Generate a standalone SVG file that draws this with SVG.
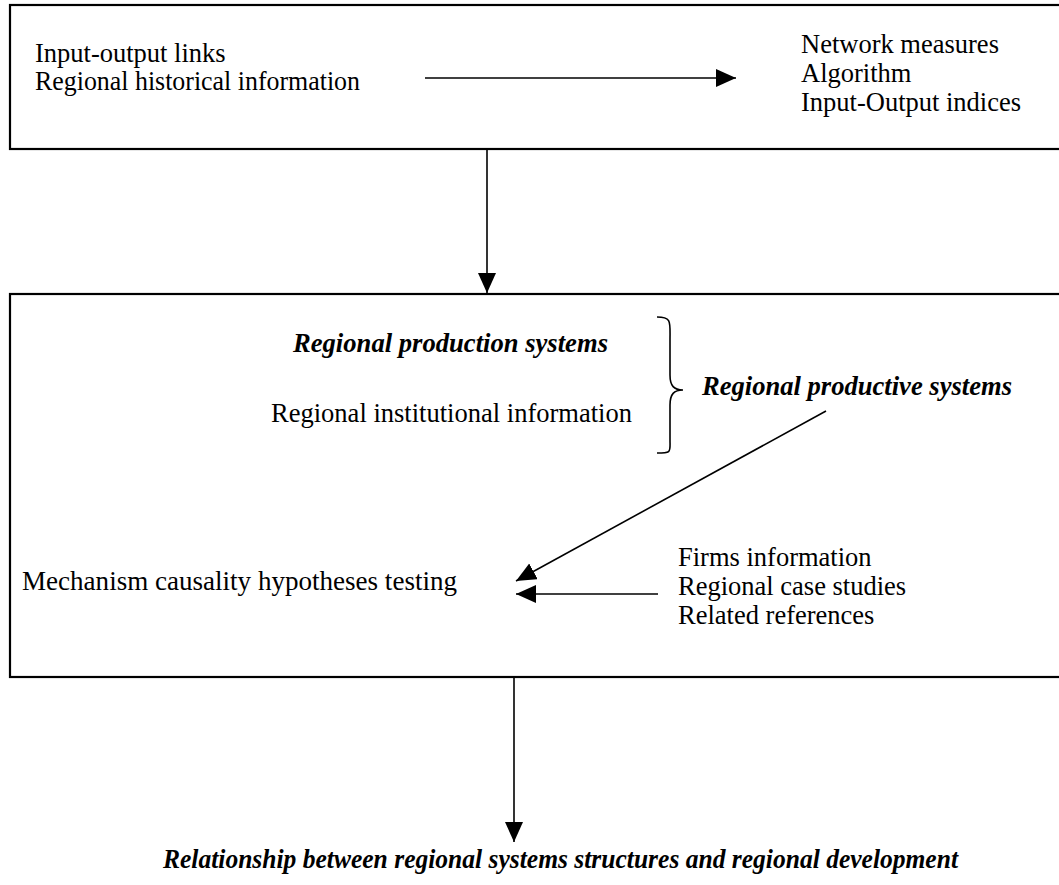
<svg xmlns="http://www.w3.org/2000/svg" width="1059" height="885" viewBox="0 0 1059 885">
  <style>
    .box { fill: none; stroke: #000; stroke-width: 2.2; }
    .t { font-family: "Liberation Serif", "Times New Roman", serif; font-size: 26.5px; fill: #000; }
    .bi { font-weight: bold; font-style: italic; }
    .conn { stroke: #000; stroke-width: 1.6; fill: none; }
  </style>
  <defs>
    <marker id="head" markerUnits="userSpaceOnUse" markerWidth="22" markerHeight="20" refX="20" refY="9" orient="auto">
      <polygon points="0,0 20,9 0,18" fill="#000"/>
    </marker>
  </defs>

  <rect width="1059" height="885" fill="#fff"/>

  <!-- upper box: data sources and measures -->
  <g id="data-box">
    <rect class="box" x="10" y="5" width="1070" height="144"/>
    <text class="t" x="35" y="62">Input-output links</text>
    <text class="t" x="35" y="90" textLength="325" lengthAdjust="spacingAndGlyphs">Regional historical information</text>
    <text class="t" x="801" y="53">Network measures</text>
    <text class="t" x="801" y="82">Algorithm</text>
    <text class="t" x="801" y="111">Input-Output indices</text>
  </g>

  <!-- middle box: regional systems and hypotheses -->
  <g id="systems-box">
    <rect class="box" x="10" y="294" width="1070" height="383"/>
    <text class="t bi" x="293" y="352" textLength="315" lengthAdjust="spacingAndGlyphs">Regional production systems</text>
    <text class="t" x="271" y="422" textLength="361" lengthAdjust="spacingAndGlyphs">Regional institutional information</text>
    <path class="conn" d="M657,317 C672,317 670,322 670,340 L670,375 C670,386 674,390 683,390 C674,390 670,394 670,405 L670,440 C670,452 672,453 657,453"/>
    <text class="t bi" x="702" y="395" textLength="310" lengthAdjust="spacingAndGlyphs">Regional productive systems</text>
    <text class="t" x="22" y="590" textLength="435" lengthAdjust="spacingAndGlyphs">Mechanism causality hypotheses testing</text>
    <text class="t" x="678" y="566">Firms information</text>
    <text class="t" x="678" y="595">Regional case studies</text>
    <text class="t" x="678" y="624">Related references</text>
  </g>

  <!-- outcome -->
  <g id="outcome">
    <text class="t bi" x="163" y="868" textLength="795" lengthAdjust="spacingAndGlyphs">Relationship between regional systems structures and regional development</text>
  </g>

  <!-- connectors -->
  <g id="connectors">
    <line class="conn" x1="425" y1="78" x2="736" y2="78" marker-end="url(#head)"/>
    <line class="conn" x1="487" y1="149" x2="487" y2="293" marker-end="url(#head)"/>
    <line class="conn" x1="826" y1="411" x2="516" y2="581" marker-end="url(#head)"/>
    <line class="conn" x1="658" y1="594" x2="516" y2="594" marker-end="url(#head)"/>
    <line class="conn" x1="514" y1="677" x2="514" y2="842" marker-end="url(#head)"/>
  </g>
</svg>
